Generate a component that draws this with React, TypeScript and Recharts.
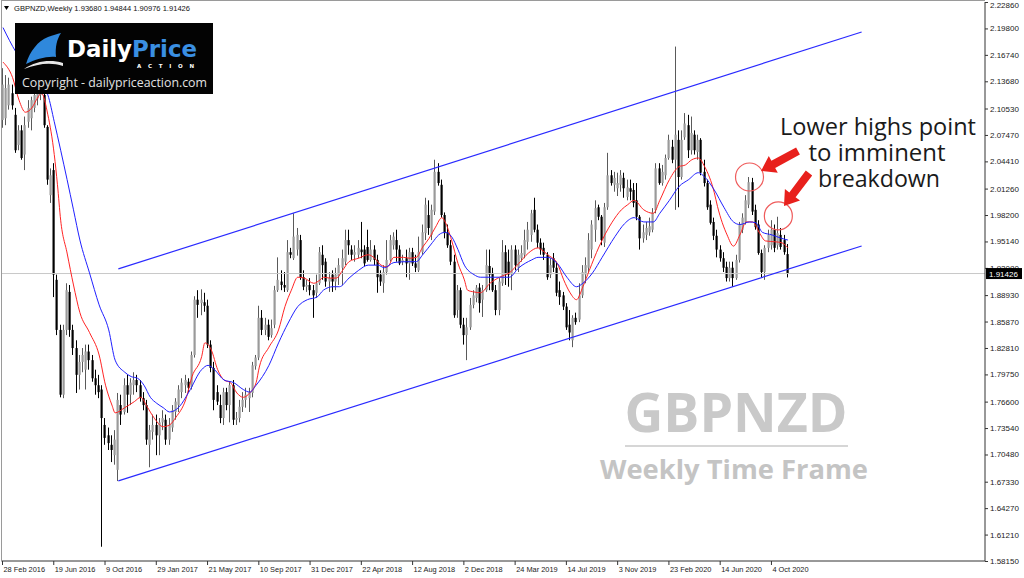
import React from 'react';
import { ComposedChart, Bar, Line, XAxis, YAxis, ReferenceLine, ReferenceDot } from 'recharts';

const SYMBOL = 'GBPNZD';
const TOTAL_SLOTS = 307;
const LABEL_STEP = 16;
const WEEK_LABELS = ['28 Feb 2016', '19 Jun 2016', '9 Oct 2016', '29 Jan 2017', '21 May 2017', '10 Sep 2017', '31 Dec 2017', '22 Apr 2018', '12 Aug 2018', '2 Dec 2018', '24 Mar 2019', '14 Jul 2019', '3 Nov 2019', '23 Feb 2020', '14 Jun 2020', '4 Oct 2020'];
const PRICE_TICKS = [2.2286, 2.198, 2.1674, 2.1368, 2.1053, 2.0747, 2.0441, 2.0126, 1.982, 1.9514, 1.9208, 1.8893, 1.8587, 1.8281, 1.7975, 1.766, 1.7354, 1.7048, 1.6733, 1.6427, 1.6121, 1.5815];
const PRICE_DOMAIN = [1.5815, 2.2286];
const LAST_PRICE = 1.91426;
const HEADER_OHLC = [1.9368, 1.94844, 1.90976, 1.91426];

// weekly candles: [open, high, low, close]
const candles: number[][] = [
  [2.092,2.152,2.083,2.133],[2.094,2.144,2.086,2.129],[2.109,2.141,2.104,2.133],[2.123,2.133,2.104,2.109],[2.098,2.106,2.054,2.057],
  [2.063,2.086,2.057,2.080],[2.080,2.086,2.046,2.048],[2.052,2.096,2.034,2.086],[2.090,2.115,2.083,2.106],[2.094,2.119,2.080,2.115],
  [2.106,2.124,2.101,2.121],[2.117,2.133,2.109,2.124],[2.121,2.138,2.115,2.127],[2.121,2.127,2.083,2.086],[2.084,2.086,2.017,2.023],
  [2.005,2.036,1.996,2.028],[2.034,2.042,1.887,1.913],[1.907,1.913,1.843,1.849],[1.849,1.855,1.771,1.774],[1.774,1.855,1.770,1.849],
  [1.849,1.903,1.843,1.895],[1.893,1.901,1.841,1.849],[1.849,1.855,1.820,1.828],[1.828,1.837,1.776,1.797],[1.797,1.820,1.780,1.812],
  [1.812,1.828,1.800,1.820],[1.803,1.832,1.780,1.824],[1.824,1.832,1.803,1.814],[1.814,1.820,1.789,1.793],[1.793,1.803,1.774,1.785],
  [1.785,1.797,1.770,1.777],[1.780,1.785,1.598,1.747],[1.739,1.747,1.716,1.724],[1.727,1.736,1.710,1.718],[1.716,1.727,1.696,1.710],
  [1.704,1.733,1.693,1.722],[1.687,1.776,1.674,1.768],[1.762,1.774,1.739,1.751],[1.754,1.793,1.751,1.785],[1.785,1.797,1.753,1.774],
  [1.774,1.793,1.762,1.788],[1.785,1.800,1.774,1.791],[1.791,1.797,1.777,1.785],[1.785,1.791,1.766,1.770],[1.770,1.777,1.756,1.762],
  [1.762,1.768,1.716,1.722],[1.716,1.739,1.690,1.733],[1.731,1.751,1.722,1.739],[1.739,1.751,1.704,1.727],[1.727,1.747,1.704,1.742],
  [1.742,1.756,1.733,1.747],[1.745,1.751,1.716,1.722],[1.722,1.747,1.716,1.739],[1.736,1.762,1.731,1.756],[1.754,1.770,1.745,1.766],
  [1.762,1.785,1.754,1.780],[1.777,1.793,1.770,1.788],[1.785,1.797,1.776,1.791],[1.789,1.793,1.777,1.782],[1.783,1.824,1.780,1.820],
  [1.820,1.888,1.817,1.884],[1.884,1.895,1.863,1.878],[1.880,1.896,1.866,1.884],[1.881,1.892,1.870,1.877],[1.877,1.884,1.828,1.832],
  [1.832,1.837,1.800,1.805],[1.805,1.812,1.756,1.768],[1.777,1.785,1.762,1.766],[1.762,1.774,1.741,1.747],[1.747,1.782,1.739,1.777],
  [1.777,1.782,1.756,1.762],[1.762,1.789,1.742,1.785],[1.785,1.791,1.739,1.745],[1.745,1.754,1.739,1.747],[1.747,1.768,1.742,1.760],
  [1.760,1.777,1.754,1.768],[1.768,1.782,1.759,1.774],[1.770,1.782,1.754,1.777],[1.776,1.812,1.771,1.808],[1.807,1.820,1.803,1.817],
  [1.817,1.877,1.814,1.863],[1.863,1.872,1.843,1.849],[1.849,1.863,1.843,1.855],[1.855,1.861,1.837,1.841],[1.843,1.861,1.840,1.851],
  [1.855,1.900,1.851,1.895],[1.895,1.933,1.893,1.907],[1.905,1.918,1.895,1.901],[1.901,1.916,1.893,1.898],[1.895,1.953,1.893,1.939],
  [1.939,1.944,1.932,1.936],[1.932,1.984,1.930,1.957],[1.942,1.967,1.935,1.959],[1.953,1.959,1.907,1.910],[1.910,1.918,1.895,1.899],
  [1.899,1.907,1.893,1.901],[1.901,1.909,1.889,1.895],[1.895,1.901,1.863,1.889],[1.892,1.913,1.886,1.903],[1.903,1.945,1.901,1.939],
  [1.936,1.947,1.907,1.924],[1.928,1.932,1.899,1.905],[1.905,1.916,1.893,1.909],[1.913,1.918,1.893,1.905],[1.905,1.921,1.895,1.913],
  [1.911,1.932,1.901,1.924],[1.921,1.942,1.901,1.932],[1.928,1.965,1.924,1.953],[1.953,1.965,1.936,1.947],[1.942,1.947,1.930,1.936],
  [1.936,1.947,1.928,1.939],[1.936,1.953,1.932,1.944],[1.942,1.974,1.932,1.939],[1.942,1.947,1.923,1.926],[1.945,1.965,1.928,1.930],
  [1.930,1.953,1.928,1.942],[1.942,1.947,1.924,1.930],[1.930,1.936,1.892,1.910],[1.913,1.918,1.900,1.905],[1.903,1.924,1.892,1.916],
  [1.916,1.953,1.913,1.930],[1.930,1.959,1.928,1.953],[1.947,1.962,1.942,1.957],[1.953,1.965,1.928,1.942],[1.942,1.947,1.924,1.926],
  [1.928,1.936,1.924,1.930],[1.932,1.942,1.910,1.926],[1.926,1.944,1.907,1.939],[1.939,1.944,1.923,1.926],[1.926,1.936,1.916,1.921],
  [1.918,1.957,1.916,1.939],[1.939,1.971,1.936,1.962],[1.961,2.002,1.953,1.994],[1.982,1.999,1.959,1.967],[1.959,1.994,1.953,1.988],
  [1.986,2.046,1.982,2.032],[2.032,2.042,2.016,2.019],[2.017,2.023,1.979,1.982],[1.982,1.985,1.955,1.961],[1.962,1.971,1.944,1.947],
  [1.947,1.953,1.924,1.928],[1.928,1.936,1.863,1.866],[1.872,1.901,1.863,1.895],[1.895,1.898,1.851,1.855],[1.855,1.863,1.832,1.843],
  [1.843,1.863,1.814,1.852],[1.852,1.886,1.849,1.878],[1.878,1.895,1.874,1.889],[1.886,1.901,1.881,1.898],[1.898,1.903,1.869,1.880],
  [1.884,1.901,1.864,1.895],[1.895,1.942,1.893,1.924],[1.923,1.942,1.895,1.913],[1.915,1.921,1.893,1.895],[1.895,1.901,1.866,1.872],
  [1.872,1.909,1.866,1.905],[1.903,1.953,1.900,1.939],[1.939,1.947,1.901,1.913],[1.928,1.942,1.899,1.913],[1.913,1.947,1.895,1.942],
  [1.942,1.947,1.918,1.924],[1.921,1.942,1.916,1.936],[1.932,1.947,1.928,1.938],[1.936,1.965,1.932,1.953],[1.951,1.974,1.942,1.965],
  [1.959,1.988,1.951,1.984],[1.988,2.002,1.962,1.965],[1.965,1.971,1.944,1.950],[1.950,1.955,1.936,1.942],[1.944,1.950,1.930,1.936],
  [1.936,1.939,1.907,1.910],[1.913,1.932,1.909,1.924],[1.932,1.938,1.916,1.921],[1.921,1.928,1.888,1.892],[1.895,1.905,1.878,1.887],
  [1.889,1.893,1.872,1.876],[1.876,1.880,1.849,1.852],[1.855,1.872,1.837,1.846],[1.837,1.866,1.829,1.863],[1.863,1.869,1.855,1.858],
  [1.861,1.903,1.858,1.889],[1.889,1.924,1.886,1.916],[1.913,1.933,1.903,1.924],[1.921,1.961,1.916,1.953],[1.942,1.976,1.932,1.971],
  [1.965,1.999,1.951,1.990],[1.991,1.994,1.976,1.980],[1.980,1.982,1.947,1.953],[1.950,1.996,1.945,1.991],[1.991,2.054,1.988,2.028],
  [2.028,2.034,2.016,2.019],[2.017,2.032,2.009,2.025],[2.013,2.031,2.004,2.019],[2.017,2.034,2.009,2.028],[2.025,2.031,2.002,2.013],
  [2.003,2.023,1.999,2.014],[2.013,2.023,1.999,2.009],[2.011,2.019,1.991,1.996],[1.999,2.019,1.976,1.980],[1.980,1.982,1.942,1.955],
  [1.955,1.971,1.950,1.962],[1.959,1.974,1.953,1.967],[1.962,1.979,1.958,1.969],[1.965,1.990,1.962,1.985],[1.988,2.042,1.984,2.036],
  [2.036,2.042,2.017,2.019],[2.019,2.040,2.016,2.032],[2.028,2.052,2.023,2.048],[2.048,2.075,2.046,2.069],[2.061,2.069,2.042,2.046],
  [2.046,2.177,1.988,2.075],[2.069,2.080,1.991,2.026],[2.026,2.080,2.023,2.069],[2.072,2.100,2.069,2.088],[2.086,2.098,2.048,2.057],
  [2.057,2.096,2.052,2.077],[2.075,2.080,2.052,2.057],[2.055,2.075,2.046,2.069],[2.069,2.071,2.028,2.031],[2.032,2.046,2.015,2.019],
  [2.019,2.023,1.988,1.991],[1.994,1.999,1.971,1.973],[1.974,1.979,1.953,1.958],[1.958,1.965,1.933,1.942],[1.942,1.947,1.928,1.932],
  [1.932,1.939,1.916,1.921],[1.922,1.928,1.905,1.909],[1.909,1.928,1.905,1.921],[1.921,1.928,1.899,1.909],[1.909,1.936,1.907,1.930],
  [1.930,1.974,1.927,1.971],[1.965,1.984,1.961,1.979],[1.974,2.005,1.971,1.999],[1.994,2.026,1.990,2.020],[2.020,2.025,1.982,1.986],
  [1.988,1.994,1.965,1.968],[1.971,1.976,1.936,1.938],[1.938,1.942,1.910,1.916],[1.916,1.947,1.907,1.944],[1.944,1.965,1.939,1.959],
  [1.947,1.976,1.942,1.965],[1.965,1.971,1.939,1.944],[1.947,1.980,1.942,1.961],[1.959,1.967,1.942,1.945],[1.953,1.959,1.936,1.939],
  [1.9368,1.94844,1.90976,1.91426],
];

// fast (red) and slow (blue) moving averages: [slot, value]
const redMa: number[][] = [
  [0,2.159],[3,2.141],[5,2.115],[7,2.101],[9,2.106],[11,2.119],[12,2.123],[14,2.098],[16,2.052],[17,2.017],[18,1.976],[20,1.938],
  [22,1.901],[24,1.869],[27,1.846],[30,1.820],[32,1.785],[34,1.762],[35,1.753],[38,1.759],[41,1.766],[43,1.771],[45,1.760],[47,1.748],
  [50,1.737],[52,1.739],[54,1.748],[57,1.768],[59,1.795],[62,1.818],[63,1.834],[65,1.826],[67,1.803],[69,1.791],[71,1.788],[73,1.776],
  [75,1.771],[77,1.776],[79,1.788],[80,1.806],[83,1.829],[86,1.849],[88,1.876],[90,1.895],[92,1.910],[94,1.909],[97,1.903],[99,1.907],
  [100,1.910],[102,1.909],[104,1.909],[106,1.918],[108,1.928],[111,1.932],[114,1.936],[116,1.932],[118,1.924],[120,1.922],[122,1.933],
  [125,1.933],[127,1.932],[129,1.933],[131,1.945],[133,1.955],[135,1.968],[137,1.979],[138,1.974],[140,1.953],[142,1.926],[144,1.907],
  [145,1.895],[147,1.893],[149,1.892],[152,1.903],[155,1.910],[158,1.915],[161,1.926],[164,1.938],[167,1.944],[168,1.942],[170,1.936],
  [173,1.926],[175,1.907],[177,1.892],[179,1.884],[181,1.899],[183,1.918],[186,1.945],[190,1.973],[193,1.988],[195,1.994],[197,1.999],
  [200,1.988],[203,1.984],[205,1.999],[208,2.023],[211,2.038],[213,2.040],[215,2.046],[217,2.048],[219,2.038],[222,2.008],[223,1.992],
  [226,1.959],[228,1.946],[230,1.959],[232,1.974],[234,1.974],[236,1.962],[238,1.952],[241,1.951],[243,1.950],[245,1.944],
];
const blueMa: number[][] = [
  [0,2.199],[4,2.171],[9,2.148],[14,2.121],[16,2.090],[18,2.057],[20,2.023],[22,1.988],[24,1.953],[27,1.915],[30,1.878],[33,1.849],
  [35,1.814],[38,1.800],[40,1.795],[42,1.793],[44,1.785],[46,1.771],[48,1.764],[50,1.759],[52,1.754],[55,1.760],[58,1.777],[62,1.803],
  [64,1.808],[66,1.803],[69,1.791],[72,1.788],[75,1.780],[77,1.777],[79,1.785],[83,1.808],[86,1.834],[89,1.857],[92,1.876],[95,1.884],
  [98,1.887],[100,1.895],[103,1.899],[105,1.899],[108,1.909],[111,1.918],[114,1.924],[117,1.924],[119,1.921],[122,1.927],[126,1.928],
  [129,1.928],[131,1.936],[134,1.950],[136,1.959],[138,1.962],[140,1.957],[142,1.942],[144,1.924],[147,1.913],[149,1.910],[155,1.910],
  [158,1.910],[161,1.921],[165,1.930],[167,1.933],[170,1.933],[173,1.926],[176,1.910],[179,1.899],[181,1.903],[184,1.915],[187,1.933],
  [191,1.957],[194,1.972],[197,1.979],[200,1.974],[203,1.974],[205,1.984],[208,1.999],[211,2.015],[214,2.023],[217,2.031],[219,2.026],
  [222,2.011],[225,1.991],[228,1.974],[230,1.971],[233,1.974],[235,1.973],[237,1.962],[240,1.959],[243,1.955],[245,1.953],
];

const upperChannel = [[36, 1.9196], [268, 2.1939]];
const lowerChannel = [[36, 1.6742], [268, 1.9462]];
const lowerHighs = [[233, 2.026], [242, 1.981]];

const data: any[] = Array.from({ length: TOTAL_SLOTS }, (_, i) => {
  const row: any = { slot: i };
  const c = candles[i];
  if (c) {
    row.o = c[0]; row.h = c[1]; row.l = c[2]; row.c = c[3];
    row.range = [c[2], c[1]];
  }
  return row;
});
redMa.forEach(([i, v]) => { data[i].red = v; });
blueMa.forEach(([i, v]) => { data[i].blue = v; });

const Candle = (props: any) => {
  const { x, y, width, height, payload } = props;
  if (!payload || payload.o == null) return null;
  const top = Math.min(y, y + height);
  const h = Math.abs(height);
  const span = payload.h - payload.l || 1e-9;
  const yO = top + ((payload.h - payload.o) / span) * h;
  const yC = top + ((payload.h - payload.c) / span) * h;
  const bull = payload.c >= payload.o;
  const cx = Math.round(x + width / 2);
  const bTop = Math.min(yO, yC);
  const bH = Math.max(1, Math.abs(yC - yO));
  return (
    <g>
      <line x1={cx - 0.5} x2={cx - 0.5} y1={top} y2={top + h} stroke={bull ? '#5a5a5a' : '#000'} strokeWidth={1} />
      <rect x={cx - 1.5} y={bTop} width={2.2} height={bH} fill={bull ? '#9a9a9a' : '#000'} />
    </g>
  );
};

const PriceTick = (props: any) => {
  const { x, y, payload } = props;
  const v = payload.value;
  if (Math.abs(v - LAST_PRICE) < 1e-9) {
    return (
      <g>
        <rect x={x + 1} y={y - 5.5} width={36} height={11} fill="#000" />
        <text x={x + 4} y={y + 3} fill="#fff" fontSize={8} fontFamily="Liberation Sans, Arial">{v.toFixed(5)}</text>
      </g>
    );
  }
  const ty = Math.max(y + 3, 8);
  return (
    <g>
      <line x1={x} x2={x + 3} y1={y + 0.5} y2={y + 0.5} stroke="#333" />
      <text x={x + 5} y={ty} fill="#222" fontSize={8} fontFamily="Liberation Sans, Arial">{v.toFixed(5)}</text>
    </g>
  );
};

const DateTick = (props: any) => {
  const { x, y, payload } = props;
  const label = WEEK_LABELS[Math.round(payload.value / LABEL_STEP)];
  return (
    <g>
      <line x1={x - 0.5} x2={x - 0.5} y1={y} y2={y + 4} stroke="#333" />
      <text x={x + 0.5} y={y + 11} fill="#222" fontSize={7.4} fontFamily="Liberation Sans, Arial">{label}</text>
    </g>
  );
};

function arrowPoints(tx: number, ty: number, hx: number, hy: number, shaft: number, headW: number, headL: number) {
  const dx = hx - tx, dy = hy - ty;
  const len = Math.hypot(dx, dy);
  const ux = dx / len, uy = dy / len;
  const nx = -uy, ny = ux;
  const bx = hx - ux * headL, by = hy - uy * headL;
  const pts = [
    [tx + nx * shaft, ty + ny * shaft], [bx + nx * shaft, by + ny * shaft], [bx + nx * headW, by + ny * headW],
    [hx, hy], [bx - nx * headW, by - ny * headW], [bx - nx * shaft, by - ny * shaft], [tx - nx * shaft, ty - ny * shaft],
  ];
  return pts.map((p) => p.map((n) => n.toFixed(1)).join(',')).join(' ');
}

const yTicks = [...PRICE_TICKS, LAST_PRICE];
const xTicks = WEEK_LABELS.map((_, k) => k * LABEL_STEP);

export default function App() {
  return (
    <div style={{ position: 'relative', width: 1024, height: 578, background: '#fff', overflow: 'hidden' }}>
      <style>{'body{margin:0;background:#fff}'}</style>
      <ComposedChart width={1024} height={578} data={data} margin={{ top: 2, right: 0, bottom: 0, left: 1.4 }} barCategoryGap={0}>
        <XAxis dataKey="slot" type="category" ticks={xTicks} interval={0} tick={<DateTick />} tickLine={false} tickSize={0} tickMargin={0} axisLine={{ stroke: '#333' }} height={17} />
        <YAxis orientation="right" type="number" domain={PRICE_DOMAIN} allowDataOverflow ticks={yTicks} interval={0} tick={<PriceTick />} tickLine={false} tickSize={0} tickMargin={0} axisLine={{ stroke: '#333' }} width={39} />
        <ReferenceLine y={LAST_PRICE} stroke="#c8c8c8" strokeWidth={1} />
        <Bar dataKey="range" shape={Candle} barSize={3} isAnimationActive={false} />
        <Line dataKey="red" stroke="#ff2424" strokeWidth={1} dot={false} activeDot={false} connectNulls type="monotone" isAnimationActive={false} />
        <Line dataKey="blue" stroke="#2020ff" strokeWidth={1} dot={false} activeDot={false} connectNulls type="monotone" isAnimationActive={false} />
        <ReferenceLine segment={[{ x: upperChannel[0][0], y: upperChannel[0][1] }, { x: upperChannel[1][0], y: upperChannel[1][1] }]} stroke="#2a2aff" strokeWidth={1.2} ifOverflow="visible" />
        <ReferenceLine segment={[{ x: lowerChannel[0][0], y: lowerChannel[0][1] }, { x: lowerChannel[1][0], y: lowerChannel[1][1] }]} stroke="#2a2aff" strokeWidth={1.2} ifOverflow="visible" />
        {lowerHighs.map(([s, v]) => (
          <ReferenceDot key={s} x={s} y={v} r={14} fill="none" stroke="#ef5b5b" strokeWidth={1.2} ifOverflow="visible" />
        ))}
      </ComposedChart>
      <svg width={1024} height={578} style={{ position: 'absolute', left: 0, top: 0, pointerEvents: 'none' }}>
        <line x1={1.5} y1={0} x2={1.5} y2={561} stroke="#9a9a9a" />
        <line x1={1} y1={0.5} x2={985} y2={0.5} stroke="#9a9a9a" />
        {/* header */}
        <polygon points="4,6 9,6 6.5,10" fill="#000" />
        <text x={14} y={11} fontSize={8} fontFamily="Liberation Sans, Arial" fill="#111" textLength={176} lengthAdjust="spacingAndGlyphs">
          {`${SYMBOL},Weekly  ${HEADER_OHLC.map((v) => v.toFixed(5)).join(' ')}`}
        </text>
        {/* logo */}
        <rect x={15} y={23} width={198} height={71} fill="#030303" />
        <path d="M26 64 C30 51 38 41 48 37 C53 35 57 34 61 33 C57 39 55 47 56 57 C47 56 36 59 26 64 Z" fill="#2f88dc" />
        <path d="M24 69 C36 61 50 59 63 63 L63 66 C50 62 38 64 24 69 Z" fill="#e6e6e6" />
        <text x={67} y={57} fontSize={23} fontWeight="bold" fontFamily="DejaVu Sans" fill="#fff" textLength={65} lengthAdjust="spacingAndGlyphs">Daily</text>
        <text x={132} y={57} fontSize={23} fontWeight="bold" fontFamily="DejaVu Sans" fill="#3a8fe2" textLength={65} lengthAdjust="spacingAndGlyphs">Price</text>
        <text x={137} y={68} fontSize={5.5} fontWeight="bold" fontFamily="DejaVu Sans" fill="#fff" textLength={57} lengthAdjust="spacing">ACTION</text>
        <text x={22} y={87} fontSize={13.5} fontFamily="Open Sans" fill="#e2e2e2" textLength={185} lengthAdjust="spacingAndGlyphs">Copyright - dailypriceaction.com</text>
        {/* annotation */}
        <text x={878} y={135} fontSize={23} fontFamily="Open Sans" fill="#1a1a1a" textAnchor="middle" textLength={196} lengthAdjust="spacingAndGlyphs">Lower highs point</text>
        <text x={877} y={161} fontSize={23} fontFamily="Open Sans" fill="#1a1a1a" textAnchor="middle" textLength={137} lengthAdjust="spacingAndGlyphs">to imminent</text>
        <text x={879} y={187} fontSize={23} fontFamily="Open Sans" fill="#1a1a1a" textAnchor="middle" textLength={122} lengthAdjust="spacingAndGlyphs">breakdown</text>
        <polygon points={arrowPoints(798, 151, 761, 171, 4, 9.5, 14)} fill="#e8201c" />
        <polygon points={arrowPoints(809, 173, 784, 206, 4, 9.5, 14)} fill="#e8201c" />
        {/* watermark */}
        <text x={736} y={432} fontSize={53} fontWeight="bold" fontFamily="Open Sans" fill="#c9c9c9" textAnchor="middle" textLength={223} lengthAdjust="spacingAndGlyphs">{SYMBOL}</text>
        <rect x={625} y={445} width={223} height={2} fill="#d6d6d6" />
        <text x={734} y={479} fontSize={27} fontWeight="bold" fontFamily="Open Sans" fill="#c4c4c4" textAnchor="middle" textLength={268} lengthAdjust="spacingAndGlyphs">Weekly Time Frame</text>
      </svg>
    </div>
  );
}
